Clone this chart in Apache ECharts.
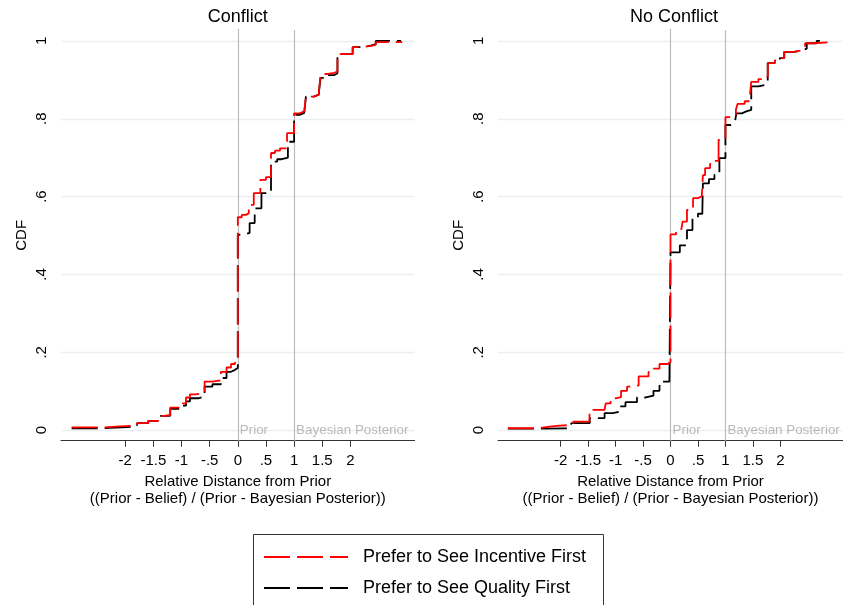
<!DOCTYPE html>
<html><head><meta charset="utf-8">
<script src="https://cdn.jsdelivr.net/npm/echarts@6/dist/echarts.min.js"></script>
<style>html,body{margin:0;padding:0;background:#fff}#chart{width:843px;height:605px}</style>
</head><body><div id="chart"></div>
<script>
const panelTitles = ['Conflict', 'No Conflict'];
const seriesNames = ['Prefer to See Incentive First', 'Prefer to See Quality First'];
const xTicks = [-2, -1.5, -1, -0.5, 0, 0.5, 1, 1.5, 2];
const yTicks = [0, 0.2, 0.4, 0.6, 0.8, 1];
const refLines = [0, 1];
const refLabels = ['Prior', 'Bayesian Posterior'];
const xAxisName = 'Relative Distance from Prior\n((Prior - Belief) / (Prior - Bayesian Posterior))';
const yAxisName = 'CDF';

// [x, CDF] — CDF takes this value from x onward
const conflictIncentive = [
  [-2.95, 0.007], [-2.37, 0.010], [-2.1, 0.012], [-1.79, 0.018], [-1.59, 0.024], [-1.41, 0.037],
  [-1.3, 0.039], [-1.2, 0.058], [-1.0, 0.069], [-0.92, 0.084], [-0.85, 0.092], [-0.75, 0.095],
  [-0.59, 0.125], [-0.45, 0.128], [-0.30, 0.150], [-0.20, 0.161], [-0.12, 0.170], [-0.05, 0.178],
  [0, 0.547], [0.07, 0.553], [0.14, 0.557], [0.195, 0.579], [0.284, 0.609], [0.40, 0.643],
  [0.50, 0.650], [0.59, 0.712], [0.66, 0.718], [0.75, 0.724], [0.875, 0.763], [1.0, 0.814],
  [1.1, 0.819], [1.18, 0.823], [1.21, 0.857], [1.35, 0.862], [1.44, 0.868], [1.47, 0.915],
  [1.6, 0.918], [1.71, 0.921], [1.77, 0.966], [2.04, 0.984], [2.2, 0.987], [2.36, 0.990],
  [2.45, 0.997], [2.92, 0.997]
];
const conflictQuality = [
  [-2.95, 0.005], [-2.37, 0.008], [-1.95, 0.010], [-1.79, 0.018], [-1.59, 0.024], [-1.41, 0.037],
  [-1.2, 0.055], [-1.0, 0.063], [-0.92, 0.074], [-0.85, 0.082], [-0.70, 0.086], [-0.59, 0.112],
  [-0.45, 0.118], [-0.30, 0.134], [-0.20, 0.150], [-0.12, 0.155], [-0.05, 0.160],
  [0, 0.502], [0.10, 0.507], [0.21, 0.532], [0.30, 0.570], [0.42, 0.609], [0.59, 0.690],
  [0.70, 0.696], [0.78, 0.700], [0.89, 0.741], [1.0, 0.810], [1.1, 0.815], [1.18, 0.820],
  [1.21, 0.857], [1.35, 0.862], [1.44, 0.868], [1.47, 0.905], [1.6, 0.912], [1.71, 0.917],
  [1.77, 0.966], [2.04, 0.984], [2.2, 0.988], [2.36, 0.992], [2.45, 1.0], [2.9, 1.0]
];
const noConflictIncentive = [
  [-2.96, 0.005], [-2.40, 0.009], [-2.2, 0.011], [-2.07, 0.013], [-1.86, 0.016], [-1.77, 0.022],
  [-1.475, 0.052], [-1.2, 0.054], [-1.18, 0.069], [-1.09, 0.082], [-1.0, 0.085], [-0.90, 0.101],
  [-0.79, 0.112], [-0.65, 0.115], [-0.58, 0.138], [-0.40, 0.150], [-0.31, 0.158], [-0.20, 0.170],
  [-0.05, 0.175], [0, 0.503], [0.10, 0.510], [0.19, 0.514], [0.22, 0.536], [0.30, 0.566],
  [0.41, 0.596], [0.50, 0.601], [0.57, 0.605], [0.59, 0.655], [0.63, 0.673], [0.72, 0.685],
  [0.80, 0.692], [0.875, 0.746], [1.0, 0.804], [1.1, 0.806], [1.19, 0.823], [1.22, 0.838],
  [1.35, 0.845], [1.44, 0.853], [1.47, 0.895], [1.6, 0.902], [1.73, 0.908], [1.77, 0.943],
  [1.9, 0.950], [1.99, 0.956], [2.07, 0.972], [2.25, 0.976], [2.4, 0.980], [2.45, 0.994],
  [2.6, 0.997], [2.92, 0.997]
];
const noConflictQuality = [
  [-2.96, 0.004], [-2.40, 0.005], [-1.83, 0.012], [-1.80, 0.018], [-1.47, 0.031], [-1.20, 0.044],
  [-1.05, 0.047], [-0.94, 0.061], [-0.82, 0.072], [-0.61, 0.084], [-0.45, 0.089], [-0.31, 0.101],
  [-0.20, 0.118], [-0.14, 0.125], [-0.02, 0.129], [0, 0.457], [0.17, 0.475], [0.30, 0.514],
  [0.40, 0.545], [0.50, 0.556], [0.58, 0.566], [0.59, 0.634], [0.70, 0.645], [0.80, 0.656],
  [0.89, 0.699], [1.0, 0.784], [1.10, 0.789], [1.17, 0.793], [1.2, 0.814], [1.3, 0.819],
  [1.38, 0.823], [1.47, 0.883], [1.6, 0.887], [1.73, 0.890], [1.77, 0.943], [1.9, 0.950],
  [1.99, 0.956], [2.07, 0.972], [2.25, 0.976], [2.4, 0.980], [2.48, 0.994], [2.66, 1.0], [2.72, 1.0]
];

const panelData = [
  [conflictIncentive, conflictQuality],
  [noConflictIncentive, noConflictQuality]
];
const seriesColors = ['#ff0000', '#000000'];

const FONT = '"Liberation Sans", Arial, Helvetica, sans-serif';
const fmt = v => String(v).replace('0.', '.');

const grids = [
  { left: 61, top: 30, width: 353.6, height: 410.7 },
  { left: 498, top: 30, width: 352, height: 410.7 }
];

const xAxes = grids.map((g, i) => ({
  type: 'value', gridIndex: i, min: -3.14, max: 3.14,
  axisLine: { show: true, onZero: false, lineStyle: { color: '#333', width: 1 } },
  axisTick: { show: true, customValues: xTicks, length: 6, lineStyle: { color: '#333' } },
  axisLabel: { customValues: xTicks, formatter: fmt, fontSize: 15, color: '#000', margin: 13, fontFamily: FONT },
  splitLine: { show: false },
  name: xAxisName, nameLocation: 'middle', nameGap: 30,
  nameTextStyle: { fontSize: 15, lineHeight: 17, color: '#000', fontFamily: FONT }
}));
const yAxes = grids.map((g, i) => ({
  type: 'value', gridIndex: i, min: -0.027, max: 1.028,
  axisLine: { show: true, lineStyle: { color: '#333', width: 1 } },
  axisTick: { show: true, customValues: yTicks, length: 6, lineStyle: { color: '#333' } },
  axisLabel: { customValues: yTicks, formatter: fmt, rotate: 90, fontSize: 15, color: '#000', margin: 12, fontFamily: FONT },
  splitLine: { show: false },
  name: yAxisName, nameLocation: 'middle', nameGap: 32,
  nameTextStyle: { fontSize: 15, color: '#000', fontFamily: FONT }
}));

const series = [];
panelData.forEach((pair, p) => {
  series.push({
    type: 'scatter', xAxisIndex: p, yAxisIndex: p, z: 1, silent: true,
    symbolSize: 0,
    data: refLines.map((v, i) => ({ value: [v, 0], label: { formatter: refLabels[i] } })),
    label: { show: true, position: 'right', distance: 2, color: '#a9a9a9', fontSize: 13.4, fontFamily: FONT },
    markLine: {
      silent: true, symbol: 'none', z: 1, animation: false,
      label: { show: false },
      data: yTicks.map(v => ({ yAxis: v, lineStyle: { color: '#e8f0f1', width: 1.3, type: 'solid' } }))
        .concat(refLines.map(v => ({ xAxis: v, lineStyle: { color: '#bdbdbd', width: 1.2, type: 'solid' } })))
    }
  });
  [1, 0].forEach(k => {
    series.push({
      name: seriesNames[k], type: 'line', xAxisIndex: p, yAxisIndex: p, z: 3 + (k === 0 ? 1 : 0),
      step: 'end', symbol: 'none', showSymbol: false,
      data: pair[k],
      lineStyle: { color: seriesColors[k], width: 1.8, type: [26, 7] },
      itemStyle: { color: seriesColors[k] }
    });
  });
});

const chart = echarts.init(document.getElementById('chart'), null, { renderer: 'canvas' });
chart.setOption({
  animation: false,
  backgroundColor: '#fff',
  textStyle: { fontFamily: FONT },
  title: panelTitles.map((t, i) => ({
    text: t, left: grids[i].left + grids[i].width / 2, top: 8, textAlign: 'center', padding: 0,
    textStyle: { fontSize: 18, fontWeight: 'normal', color: '#000', fontFamily: FONT }
  })),
  grid: grids,
  xAxis: xAxes,
  yAxis: yAxes,
  graphic: [{
    type: 'rect', silent: true, z: 0,
    shape: { x: 253.5, y: 534.5, width: 350, height: 100 },
    style: { fill: 'none', stroke: '#333', lineWidth: 1 }
  }],
  legend: {
    data: seriesNames, orient: 'vertical', left: 253, top: 534,
    itemWidth: 84, itemHeight: 14, itemGap: 13,
    padding: [14, 16, 0, 10],
    itemStyle: { opacity: 0, borderWidth: 0 },
    textStyle: { fontSize: 18, color: '#000', fontFamily: FONT, padding: [0, 0, 0, 10] }
  },
  series: series
});
</script>
</body></html>
